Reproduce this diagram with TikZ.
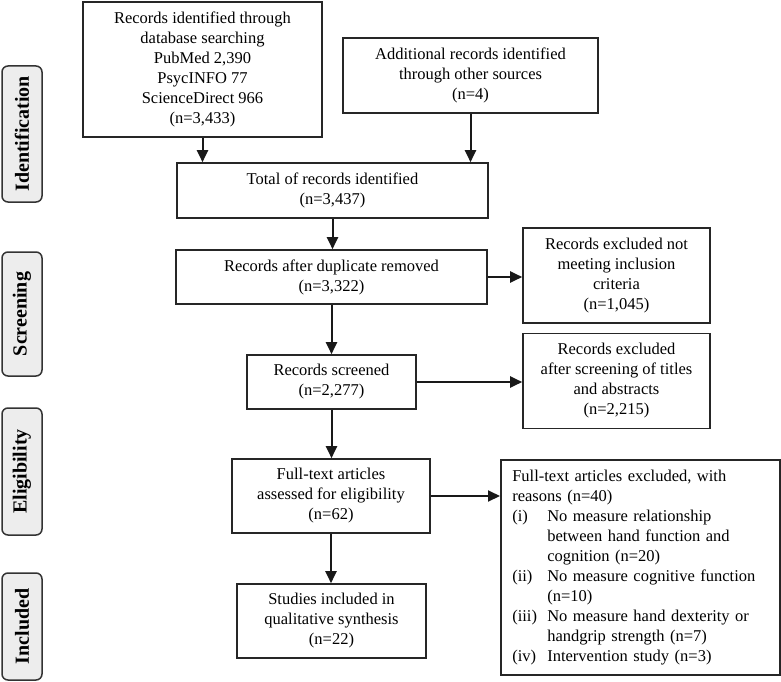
\documentclass[tikz,border=0pt]{standalone}
\usepackage{fontspec}
\setmainfont{Liberation Serif}
\usetikzlibrary{arrows.meta}
\begin{document}
\begin{tikzpicture}[x=1pt,y=-1pt,
  box/.style={draw=black!85, line width=1.6pt, align=center, inner sep=2pt,
    font=\fontsize{16.5}{20}\selectfont},
  phase/.style={draw=black!80, line width=1.5pt, fill=gray!14, rounded corners=6pt,
    rotate=90, inner sep=0pt, minimum height=40pt,
    font=\bfseries\fontsize{20}{24}\selectfont},
  arr/.style={line width=2pt, draw=black!90, -{Triangle[length=12pt,width=11pt]}}]
\useasboundingbox (0,0) rectangle (781,682);

% phase labels
\node[phase, minimum width=136pt] (pid) at (22,134) {Identification};
\node[phase, minimum width=124pt] (psc) at (22,314) {Screening};
\node[phase, minimum width=127pt] (pel) at (22,471.5) {Eligibility};
\node[phase, minimum width=107pt] (pin) at (22,626.5) {Included};

% main boxes
\node[box, minimum width=239pt, minimum height=135pt] (db) at (202.5,69.5)
  {Records identified through\\database searching\\PubMed 2,390\\PsycINFO 77\\ScienceDirect 966\\(n=3,433)};
\node[box, minimum width=255pt, minimum height=75pt] (add) at (470.5,75.5)
  {Additional records identified\\through other sources\\(n=4)};
\node[box, minimum width=311pt, minimum height=55pt] (tot) at (332.5,190.5)
  {Total of records identified\\(n=3,437)};
\node[box, minimum width=311pt, minimum height=54pt] (dup) at (331.5,277)
  {Records after duplicate removed\\(n=3,322)};
\node[box, minimum width=187pt, minimum height=95pt] (ex1) at (616.5,275.5)
  {Records excluded not\\meeting inclusion\\criteria\\(n=1,045)};
\node[box, minimum width=169pt, minimum height=54pt] (scr) at (331.5,382)
  {Records screened\\(n=2,277)};
\node[box, minimum width=187pt, minimum height=95pt] (ex2) at (616.5,381)
  {Records excluded\\after screening of titles\\and abstracts\\(n=2,215)};
\node[box, minimum width=198pt, minimum height=74pt] (ft) at (331,496)
  {Full-text articles\\assessed for eligibility\\(n=62)};
\node[box, minimum width=189pt, minimum height=74pt] (inc) at (331.5,621)
  {Studies included in\\qualitative synthesis\\(n=22)};
\node[box, anchor=north west, align=left, text width=256pt, inner xsep=11.5pt,
  minimum height=215pt] (ex3) at (500,459)
  {Full-text articles excluded, with\\
   reasons (n=40)\\
   \makebox[35pt][l]{(i)}No measure relationship\\
   \hspace*{35pt}between hand function and\\
   \hspace*{35pt}cognition (n=20)\\
   \makebox[35pt][l]{(ii)}No measure cognitive function\\
   \hspace*{35pt}(n=10)\\
   \makebox[35pt][l]{(iii)}No measure hand dexterity or\\
   \hspace*{35pt}handgrip strength (n=7)\\
   \makebox[35pt][l]{(iv)}Intervention study (n=3)};

% connectors
\draw[arr] (db.south) -- (db.south |- tot.north);
\draw[arr] (add.south) -- (add.south |- tot.north);
\draw[arr] (tot.south) -- (tot.south |- dup.north);
\draw[arr] (dup.east) -- (dup.east -| ex1.west);
\draw[arr] (dup.south) -- (dup.south |- scr.north);
\draw[arr] (scr.east) -- (scr.east -| ex2.west);
\draw[arr] (scr.south) -- (scr.south |- ft.north);
\draw[arr] (ft.east) -- (ft.east -| ex3.west);
\draw[arr] (ft.south) -- (ft.south |- inc.north);
\end{tikzpicture}
\end{document}
